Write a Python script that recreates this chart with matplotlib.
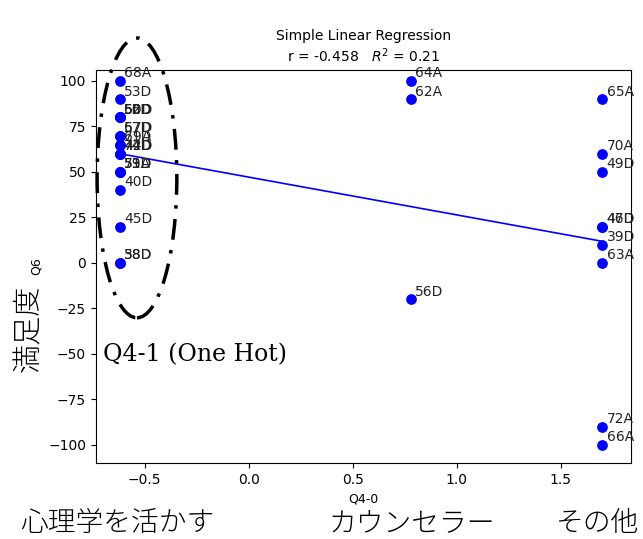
import numpy as np
import matplotlib
matplotlib.use("Agg")
import matplotlib.pyplot as plt
from matplotlib.patches import Ellipse

# Data
x_left, x_mid, x_right = -0.62, 0.78, 1.70
labels = ["68A", "53D", "52D", "55D", "60D", "50D", "67D", "57D", "69A", "71D",
          "74D", "44D", "42D", "73D", "51A", "59D", "40D", "45D", "58D", "38D",
          "64A", "62A", "56D",
          "65A", "70A", "49D", "47D", "46D", "39D", "63A", "72A", "66A"]
q4_0 = [x_left] * 20 + [x_mid] * 3 + [x_right] * 9
q6 = [100, 90, 80, 80, 80, 80, 70, 70, 65, 65,
      60, 60, 60, 50, 50, 50, 40, 20, 0, 0,
      100, 90, -20,
      90, 60, 50, 20, 20, 10, 0, -90, -100]
title_lines = ["Simple Linear Regression", r"r = -0.458   $R^2$ = 0.21"]

x = np.array(q4_0)
y = np.array(q6)
slope, intercept = np.polyfit(x, y, 1)

fig = plt.figure(figsize=(6.43, 5.39), dpi=100)
ax = fig.add_axes([0.149, 0.141, 0.832, 0.729])
ax.scatter(x, y, color="blue", s=45, zorder=3)
xs = np.array([x.min(), x.max()])
ax.plot(xs, intercept + slope * xs, color="blue", lw=1.2)
for xi, yi, lab in zip(x, y, labels):
    ax.text(xi + 0.02, yi + 2, lab, fontsize=10, color="#222222")

ax.set_xlim(-0.735, 1.836)
ax.set_ylim(-110, 106)
ax.set_xticks([-0.5, 0.0, 0.5, 1.0, 1.5])
ax.set_yticks([-100, -75, -50, -25, 0, 25, 50, 75, 100])
ax.tick_params(labelsize=10)
ax.set_xlabel("Q4-0", fontsize=9)
ax.set_ylabel("Q6", fontsize=9)
ax.set_title("\n".join(title_lines), fontsize=10)

# annotations
ell = Ellipse((0.213, 0.670), 0.124, 0.519, transform=fig.transFigure,
              fill=False, edgecolor="black", lw=2.5, linestyle=(0, (6, 3, 1, 3)))
fig.add_artist(ell)
fig.text(0.16, 0.342, "Q4-1 (One Hot)", fontsize=17, family="DejaVu Serif", va="center")
jp = ["Noto Sans CJK JP", "DejaVu Sans"]
fig.text(0.045, 0.390, "満足度", fontsize=21, rotation=90, family=jp, va="center", ha="center", fontweight="light")
fig.text(0.032, 0.030, "心理学を活かす", fontsize=20, family=jp, va="center", fontweight="light")
fig.text(0.511, 0.030, "カウンセラー", fontsize=20, family=jp, va="center", fontweight="light")
fig.text(0.864, 0.030, "その他", fontsize=20, family=jp, va="center", fontweight="light")

fig.savefig("out.png", dpi=100)
